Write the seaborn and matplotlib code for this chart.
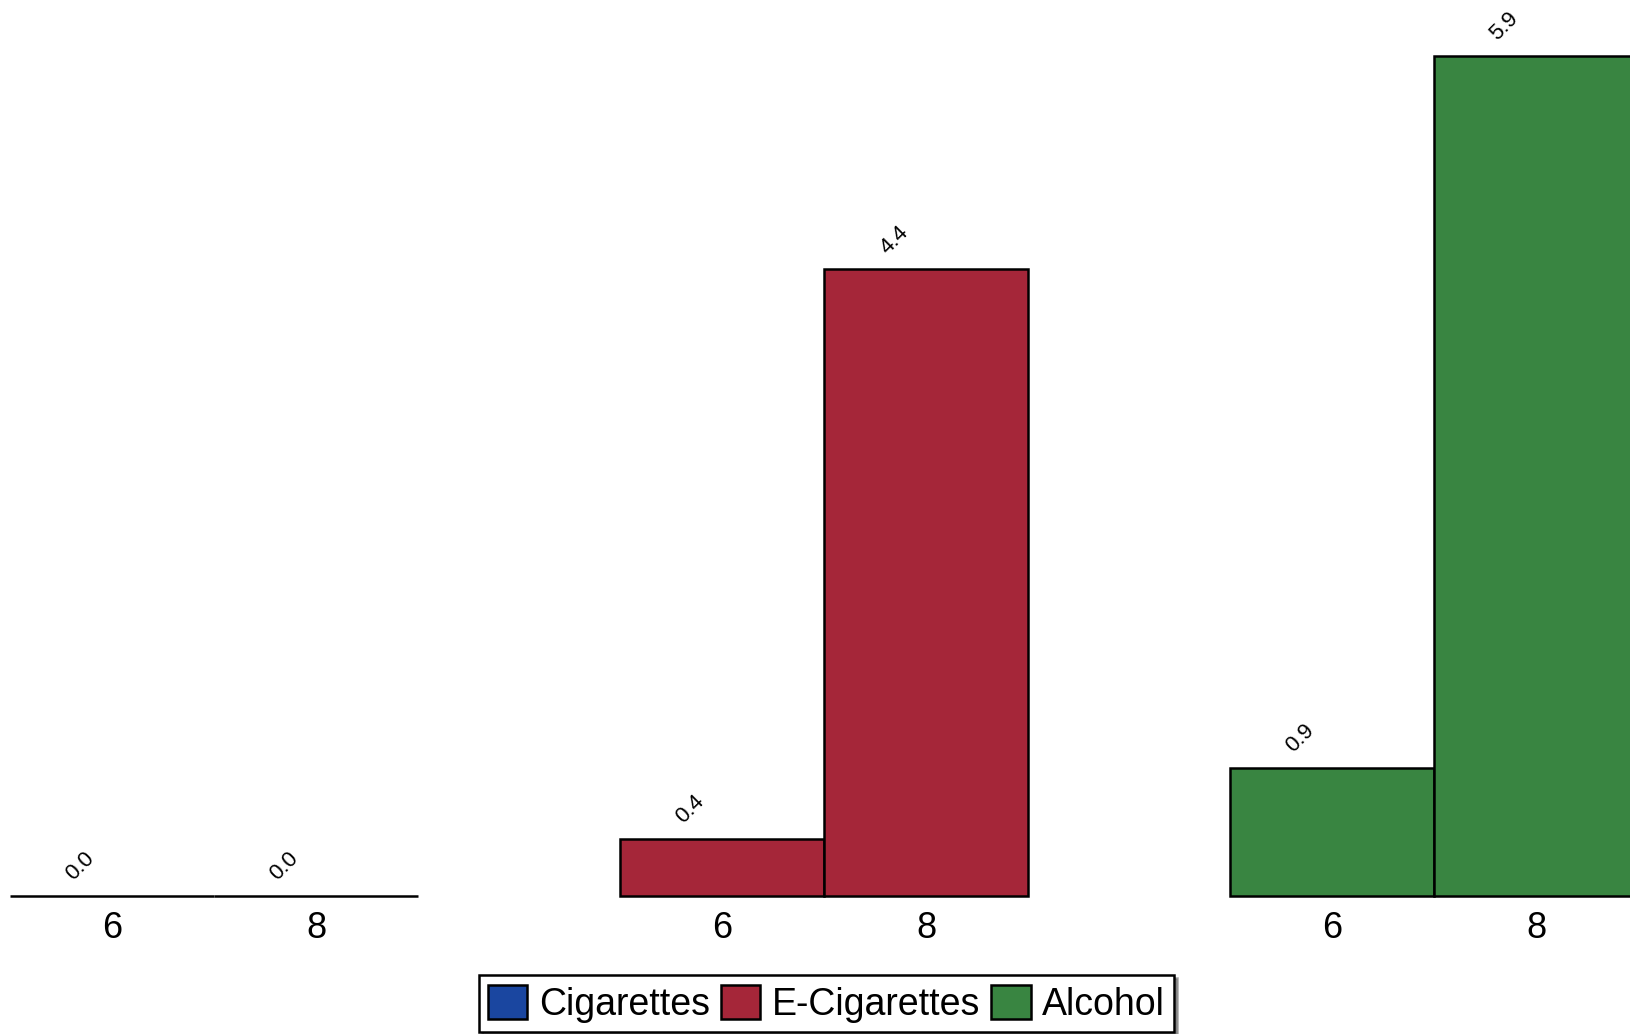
import pandas as pd
import matplotlib
matplotlib.use('Agg')
import matplotlib.pyplot as plt
from matplotlib.patches import Patch
import seaborn as sns

# Dados do gráfico
substances = ['Cigarettes', 'E-Cigarettes', 'Alcohol']
grades = ['6', '8']
cigarettes = [0.0, 0.0]
e_cigarettes = [0.4, 4.4]
alcohol = [0.9, 5.9]
colors = ['#1a46a0', '#a52639', '#398541']

rows = []
for name, vals in zip(substances, [cigarettes, e_cigarettes, alcohol]):
    for g, v in zip(grades, vals):
        rows.append({'substance': name, 'grade': g, 'value': v})
df = pd.DataFrame(rows)

sns.set_style('white')
plt.rcParams['font.family'] = ['Liberation Sans', 'DejaVu Sans']
plt.rcParams['text.color'] = 'black'
plt.rcParams['xtick.color'] = 'black'
plt.rcParams['xtick.labelcolor'] = 'black'

fig = plt.figure(figsize=(16.3, 10.34), dpi=100)
ax = fig.add_axes([0, 138 / 1034, 1, 896 / 1034])

sns.barplot(data=df, x='substance', y='value', hue='grade', order=substances,
            hue_order=grades, width=0.668, dodge=True, errorbar=None,
            edgecolor='black', linewidth=1.8, legend=False, ax=ax)

# colorir por substancia, rotular por serie
tick_pos, tick_lab = [], []
for p in ax.patches:
    cx = p.get_x() + p.get_width() / 2
    gi = int(round(cx))
    p.set_facecolor(colors[gi])
    p.set_clip_on(False)
    tick_pos.append(cx)
    tick_lab.append('6' if cx < gi else '8')
    ax.annotate(f'{p.get_height():.1f}', (cx, p.get_height()),
                xytext=(-23, 8), textcoords='offset points',
                ha='center', va='bottom', rotation=45, fontsize=16,
                color='black')

ax.set_xticks(tick_pos)
ax.set_xticklabels(tick_lab, fontsize=26)
ax.tick_params(axis='x', length=0, pad=11)
ax.set_yticks([])
ax.set_xlabel('')
ax.set_ylabel('')
ax.set_xlim(-0.351, 2.321)
ax.set_ylim(0, 6.29)
sns.despine(ax=ax, left=True, bottom=True)

handles = [Patch(facecolor=c, edgecolor='black', linewidth=1.8) for c in colors]
leg = fig.legend(handles, substances, loc='lower center', ncol=3,
                 bbox_to_anchor=(0.507, 0.0), fontsize=27, frameon=True,
                 fancybox=False, shadow=True, handlelength=1.05,
                 handleheight=1.05, handletextpad=0.3, columnspacing=0.3,
                 borderpad=0.25, borderaxespad=0.05)
leg.get_frame().set_edgecolor('black')
leg.get_frame().set_linewidth(1.8)

fig.savefig('out.png', dpi=100)
